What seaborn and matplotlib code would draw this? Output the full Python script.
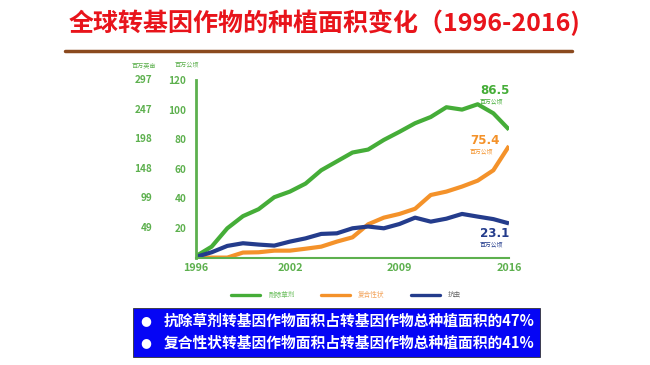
import matplotlib
matplotlib.use("Agg")
import matplotlib.pyplot as plt
from matplotlib.patches import Rectangle
from matplotlib.lines import Line2D
import seaborn as sns
import pandas as pd
import numpy as np

# ---------------- data ----------------
years = list(range(1996, 2017))
herbicide = [1, 7.4, 19.8, 28, 32.7, 40.8, 44.6, 50, 59, 65, 71, 73, 79.5, 85,
             90.8, 95, 101.6, 100, 103.6, 97.5, 86.5]
stacked = [0, 0, 0, 3.4, 3.6, 4.7, 4.7, 6, 7.4, 10.8, 13.7, 22.5, 27, 29.5,
           33, 42.3, 44.6, 48, 52, 59, 75.4]
insect = [0.5, 3.6, 7.9, 9.7, 8.8, 8.1, 10.8, 13, 16, 16.4, 19.8, 21, 19.8,
          22.7, 27, 24.3, 26.3, 29.5, 27.7, 26, 23.1]
series_names = ["耐除草剂", "复合性状", "抗虫"]
hectare_ticks = [20, 40, 60, 80, 100, 120]
acre_labels = ["49", "99", "148", "198", "247", "297"]
x_major = [1996, 2002, 2009, 2016]
title = "全球转基因作物的种植面积变化（1996-2016)"
bullets = ["抗除草剂转基因作物面积占转基因作物总种植面积的47%",
           "复合性状转基因作物面积占转基因作物总种植面积的41%"]
unit_ha = "百万公顷"
unit_ac = "百万英亩"

colors = {"耐除草剂": "#45AD38", "复合性状": "#F4922A", "抗虫": "#243C8C"}
axis_green = "#5DB04E"

df = pd.DataFrame({
    "year": years * 3,
    "value": herbicide + stacked + insect,
    "trait": [series_names[0]] * len(years) + [series_names[1]] * len(years)
             + [series_names[2]] * len(years),
})

# ---------------- style ----------------
sns.set_style("white")
plt.rcParams["font.family"] = ["Noto Sans CJK SC", "DejaVu Sans"]

fig = plt.figure(figsize=(6.5, 3.65), dpi=100)
ax = fig.add_axes([196 / 650, 1 - 257.6 / 365, 313 / 650, (257.6 - 80) / 365])

sns.lineplot(data=df, x="year", y="value", hue="trait", palette=colors,
             linewidth=3.0, ax=ax, legend=False, solid_capstyle="butt")

ax.set_xlim(1996, 2016)
ax.set_ylim(0, 120)
ax.set_xlabel("")
ax.set_ylabel("")

for s in ["top", "right"]:
    ax.spines[s].set_visible(False)
ax.spines["left"].set_color(axis_green)
ax.spines["left"].set_linewidth(2)
ax.spines["bottom"].set_color(axis_green)
ax.spines["bottom"].set_linewidth(1.5)

ax.set_yticks(hectare_ticks)
ax.set_yticklabels([str(v) for v in hectare_ticks])
ax.set_xticks(x_major)
ax.set_xticklabels([str(v) for v in x_major])
ax.set_xticks(years, minor=True)
ax.tick_params(axis="y", direction="in", length=3, color="#cccccc", width=0.8,
               labelsize=7.2, labelcolor=axis_green, pad=7)
ax.tick_params(axis="x", which="both", direction="in", length=3, color="#9acb8f",
               width=0.8, labelsize=7.8, labelcolor=axis_green, pad=4)
for lab in ax.get_yticklabels() + ax.get_xticklabels():
    lab.set_fontweight("bold")

# acre labels (left column)
ytr = ax.get_yaxis_transform()
for v, lab in zip(hectare_ticks, acre_labels):
    ax.text(-0.14, v, lab, transform=ytr, ha="right", va="center",
            fontsize=7.2, fontweight="bold", color=axis_green)
ax.text(-0.165, 1.085, unit_ac, transform=ax.transAxes, ha="center",
        va="center", fontsize=4.4, color=axis_green)
ax.text(-0.03, 1.085, unit_ha, transform=ax.transAxes, ha="center",
        va="center", fontsize=4.4, color=axis_green)

# end value annotations
ends = [(herbicide[-1], colors["耐除草剂"], (-10, 28)),
        (stacked[-1], colors["复合性状"], (-17, 4)),
        (insect[-1], colors["抗虫"], (-10, -7))]
for val, col, off in ends:
    ax.annotate(f"{val}", xy=(years[-1], val), xytext=off,
                textcoords="offset points", ha="center", va="center",
                fontsize=8.6, fontweight="bold", color=col,
                family=["DejaVu Sans"])
    ax.annotate(unit_ha, xy=(years[-1], val),
                xytext=(off[0] - 3, off[1] - 8), textcoords="offset points",
                ha="center", va="center", fontsize=4.2, color=col)

# legend
handles = [Line2D([], [], color=colors[n], linewidth=2.4) for n in series_names]
leg = fig.legend(handles, series_names, loc="center",
                 bbox_to_anchor=(346 / 650, 1 - 295 / 365), ncol=3,
                 frameon=False, fontsize=4.8, handlelength=4.4,
                 columnspacing=3.9, handletextpad=1.2)
text_cols = ["#6cbf5e", "#f3a35a", "#666666"]
for t, c in zip(leg.get_texts(), text_cols):
    t.set_color(c)

# title and rule
fig.text(325 / 650, 1 - 23 / 365, title, ha="center", va="center",
         fontsize=18, fontweight="bold", color="#E8141B")
fig.add_artist(Line2D([65 / 650, 572 / 650], [1 - 51 / 365, 1 - 51 / 365],
                      color="#8B4A1E", linewidth=2.5))

# blue info box
fig.add_artist(Rectangle((133 / 650, 1 - 357 / 365), (540 - 133) / 650,
                         (357 - 308) / 365, facecolor="#0505F5",
                         edgecolor="#333333", linewidth=0.6))
for i, line in enumerate(bullets):
    yy = 1 - (321 + 22 * i) / 365
    fig.text(146 / 650, yy, "●", ha="center", va="center", fontsize=9,
             color="white", family=["DejaVu Sans"])
    fig.text(164 / 650, yy, line, ha="left", va="center", fontsize=10.6,
             fontweight="bold", color="white")

fig.savefig("out.png", dpi=100)
